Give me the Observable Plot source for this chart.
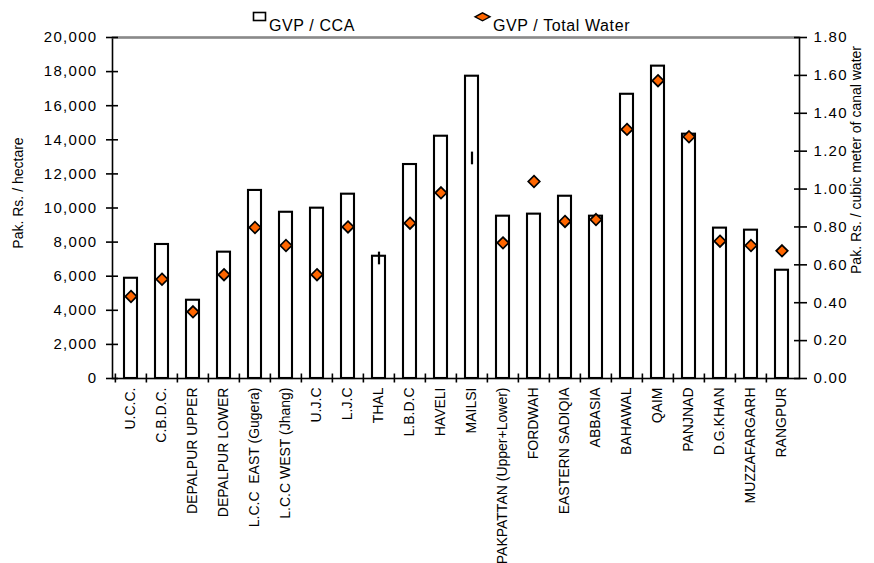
<!DOCTYPE html>
<html>
<head>
<meta charset="utf-8">
<script src="https://cdn.jsdelivr.net/npm/d3@7"></script>
<script src="https://cdn.jsdelivr.net/npm/@observablehq/plot@0.6"></script>
<style>
  body { margin: 0; background: #fff; font-family: Arial, "Liberation Sans", sans-serif; }
  #legend { display: block; overflow: visible; position: relative; z-index: 2; }
  #chart svg { display: block; position: relative; z-index: 1; }
</style>
</head>
<body>
<!-- legend strip above the plot -->
<svg id="legend" width="874" height="28">
  <rect x="253.5" y="12.5" width="12" height="8" fill="#fff" stroke="#000" stroke-width="1.6"></rect>
  <text x="269" y="31" font-size="16" letter-spacing="0.6" fill="#000">GVP / CCA</text>
  <polygon points="475,16.8 482.5,12.8 490,16.8 482.5,20.8" fill="#ff6600" stroke="#000" stroke-width="1.4"></polygon>
  <text x="493" y="31" font-size="16" letter-spacing="0.6" fill="#000">GVP / Total Water</text>
</svg>
<div id="chart"></div>
<script>
// Canal commands
const canals = [
  "U.C.C.", "C.B.D.C.", "DEPALPUR UPPER", "DEPALPUR LOWER", "L.C.C  EAST (Gugera)",
  "L.C.C WEST (Jhang)", "U.J.C", "L.J.C", "THAL", "L.B.D.C", "HAVELI", "MAILSI",
  "PAKPATTAN (Upper+Lower)", "FORDWAH", "EASTERN SADIQIA", "ABBASIA", "BAHAWAL",
  "QAIM", "PANJNAD", "D.G.KHAN", "MUZZAFARGARH", "RANGPUR"
];

// Gross value of production per hectare of CCA (Pak. Rs. / hectare)
const gvpPerCCA = [
  5880, 7860, 4590, 7410, 11030, 9750, 9990, 10810, 7170, 12550, 14210,
  17730, 9520, 9640, 10690, 9520, 16670, 18320, 14330, 8820, 8700, 6350
];

// Gross value of production per cubic meter of canal water (Pak. Rs. / m3)
const gvpPerWater = [
  0.433, 0.524, 0.352, 0.548, 0.797, 0.702, 0.548, 0.800, null, 0.820, 0.980,
  null, 0.716, 1.040, 0.829, 0.839, 1.315, 1.572, 1.276, 0.725, 0.702, 0.674
];

// Short vertical range marks drawn for two canals (Pak. Rs. / m3)
const rangeLow = [
  null, null, null, null, null, null, null, null, 0.600, null, null,
  1.128, null, null, null, null, null, null, null, null, null, null
];
const rangeHigh = [
  null, null, null, null, null, null, null, null, 0.667, null, null,
  1.195, null, null, null, null, null, null, null, null, null, null
];

// Axis ticks
const leftTicks = [0, 2000, 4000, 6000, 8000, 10000, 12000, 14000, 16000, 18000, 20000];
const rightTicks = [0, 0.2, 0.4, 0.6, 0.8, 1.0, 1.2, 1.4, 1.6, 1.8];

const leftMax = 20000;
const rightMax = 1.8;
const k = leftMax / rightMax; // right-axis units -> left-axis units

const W = 874, H = 535;
const mL = 112, mR = 75, mT = 9, mB = 185;
const step = (W - mL - mR) / canals.length;

const rows = canals.map((canal, i) => ({
  canal,
  cca: gvpPerCCA[i],
  water: gvpPerWater[i],
  lo: rangeLow[i],
  hi: rangeHigh[i]
}));

const font = "Arial, 'Liberation Sans', sans-serif";

const chart = Plot.plot({
  width: W,
  height: H,
  marginLeft: mL,
  marginRight: mR,
  marginTop: mT,
  marginBottom: mB,
  style: { fontFamily: font, fontSize: "14px", color: "#000", background: "none", overflow: "visible" },
  x: { domain: canals, padding: 0, axis: null },
  y: { domain: [0, leftMax], axis: null },
  marks: [
    // GVP / CCA bars
    Plot.barY(rows, {
      x: "canal", y: "cca",
      fill: "#fff", stroke: "#000", strokeWidth: 2.1,
      insetLeft: 9, insetRight: 9
    }),
    // range marks
    Plot.ruleX(rows.filter(d => d.lo != null), {
      x: "canal", y1: d => d.lo * k, y2: d => d.hi * k,
      stroke: "#000", strokeWidth: 2.2
    }),
    // GVP / Total Water diamonds, plotted against the right axis
    Plot.dot(rows.filter(d => d.water != null), {
      x: "canal", y: d => d.water * k,
      symbol: "diamond2", r: 5.2,
      fill: "#ff6600", stroke: "#000", strokeWidth: 1.7
    }),
    // plot border: black axes, grey top edge
    Plot.frame({ stroke: "#000", strokeWidth: 1.6 }),
    Plot.ruleY([leftMax], { stroke: "#8a8a8a", strokeWidth: 2 }),

    // left axis: crossing ticks and labels
    Plot.axisY(leftTicks, {
      anchor: "left", tickSize: 12, dx: 6, strokeWidth: 1.6,
      fill: "none", tickFormat: () => "", label: null
    }),
    Plot.axisY(leftTicks, {
      anchor: "left", tickSize: 0, tickPadding: 15,
      tickFormat: d3.format(","), label: null,
      fontSize: 15
    }),

    // right axis: crossing ticks and labels
    Plot.axisY(rightTicks.map(v => v * k), {
      anchor: "right", tickSize: 13, dx: -6, strokeWidth: 1.6,
      fill: "none", tickFormat: () => "", label: null
    }),
    Plot.axisY(rightTicks.map(v => v * k), {
      anchor: "right", tickSize: 0, tickPadding: 14,
      tickFormat: d => (d / k).toFixed(2), label: null,
      fontSize: 15
    }),

    // category axis: ticks between categories, rotated names
    Plot.axisX(canals, {
      anchor: "bottom", tickSize: 9, dy: -4.5, dx: -step / 2, strokeWidth: 1.6,
      fill: "none", tickFormat: () => "", label: null
    }),
    Plot.axisX(canals, {
      anchor: "bottom", tickSize: 0, tickPadding: 9, tickRotate: -90,
      textAnchor: "end", label: null, fontSize: 14
    }),

    // axis titles
    Plot.text(["Pak. Rs. / hectare"], {
      frameAnchor: "left", dx: -94, dy: -15, rotate: -90,
      textAnchor: "middle", fontSize: 14
    }),
    Plot.text(["Pak. Rs. / cubic meter of canal water"], {
      frameAnchor: "right", dx: 57, dy: -48, rotate: -90,
      textAnchor: "middle", fontSize: 14
    })
  ]
});

// wider spacing for the numeric tick labels
d3.select(chart)
  .selectAll("g[aria-label='y-axis tick label'] text")
  .style("letter-spacing", "1.3px");

document.getElementById("chart").appendChild(chart);
</script>
</body>
</html>
